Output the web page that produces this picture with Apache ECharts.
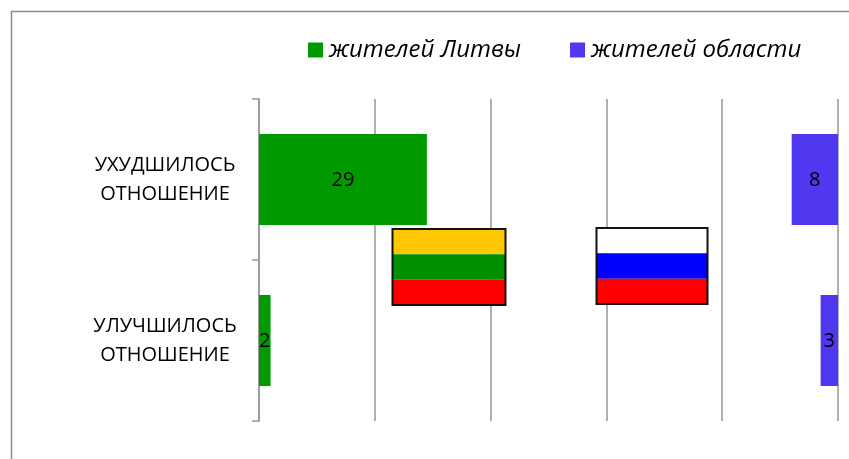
<!DOCTYPE html>
<html><head><meta charset="utf-8">
<style>html,body{margin:0;padding:0;background:#fff}#c{width:849px;height:459px}</style>
<script src="https://cdn.jsdelivr.net/npm/echarts@6/dist/echarts.min.js"></script>
</head><body><div id="c"></div>
<script>
const categories = ['УХУДШИЛОСЬ\nОТНОШЕНИЕ', 'УЛУЧШИЛОСЬ\nОТНОШЕНИЕ'];
const lithuaniaName = 'жителей Литвы';
const regionName = 'жителей области';
const lithuaniaValues = [29, 2];
const regionValues = [8, 3];
const axisMax = 100;
const axisStep = 20;
const FONT = '"Open Sans"';
const GREY = '#969696';

function flag(x, y, w, h, colors) {
  const sh = h / 3;
  const kids = colors.map((c, i) => ({
    type: 'rect', silent: true, z: 10,
    shape: { x: x, y: y + i * sh, width: w, height: sh },
    style: { fill: c }
  }));
  kids.push({
    type: 'rect', silent: true, z: 11,
    shape: { x: x, y: y, width: w, height: h },
    style: { fill: 'none', stroke: '#111', lineWidth: 2 }
  });
  return kids;
}

const chart = echarts.init(document.getElementById('c'), null, { renderer: 'canvas' });
chart.setOption({
  animation: false,
  backgroundColor: '#fff',
  textStyle: { fontFamily: FONT },
  grid: { left: 259, right: 11, top: 99, bottom: 38, containLabel: false },
  legend: {
    left: 303, top: 33, itemWidth: 15, itemHeight: 15, itemGap: 49,
    icon: 'rect', selectedMode: false,
    textStyle: { fontFamily: FONT, fontStyle: 'italic', fontSize: 24, color: '#000', padding: [0, 0, 0, 1] },
    data: [lithuaniaName, regionName]
  },
  xAxis: [
    { type: 'value', min: 0, max: axisMax, interval: axisStep,
      axisLabel: { show: false }, axisTick: { show: false }, axisLine: { show: false },
      splitLine: { show: true, lineStyle: { color: GREY, width: 1.5 } } },
    { type: 'value', min: 0, max: axisMax, interval: axisStep, inverse: true,
      axisLabel: { show: false }, axisTick: { show: false }, axisLine: { show: false },
      splitLine: { show: false } }
  ],
  yAxis: {
    type: 'category', inverse: true, data: categories,
    axisLine: { show: true, lineStyle: { color: GREY, width: 1.5 } },
    axisTick: { show: true, length: 7, lineStyle: { color: GREY, width: 1.5 } },
    axisLabel: { align: 'center', margin: 94, fontFamily: FONT, fontSize: 20, lineHeight: 29, color: '#000' }
  },
  series: [
    { name: lithuaniaName, type: 'bar', xAxisIndex: 0, data: lithuaniaValues,
      barWidth: 91, barGap: '-100%', itemStyle: { color: '#009900' },
      label: { show: true, position: 'inside', offset: [0, 1], color: '#000', fontFamily: FONT, fontSize: 20 } },
    { name: regionName, type: 'bar', xAxisIndex: 1, data: regionValues,
      barWidth: 91, barGap: '-100%', itemStyle: { color: '#5037F0' },
      label: { show: true, position: 'inside', offset: [0, 1], color: '#000', fontFamily: FONT, fontSize: 20 } }
  ],
  graphic: [
    { type: 'polyline', silent: true, shape: { points: [[11.5, 459], [11.5, 11.5], [849, 11.5]] },
      style: { fill: 'none', stroke: '#8c8c8c', lineWidth: 1.5 } },
    ...flag(392.5, 229, 113, 76, ['#FFC800', '#009000', '#FF0000']),
    ...flag(596.5, 228, 111, 76, ['#FFFFFF', '#0000FF', '#FF0000'])
  ]
});
</script></body></html>
